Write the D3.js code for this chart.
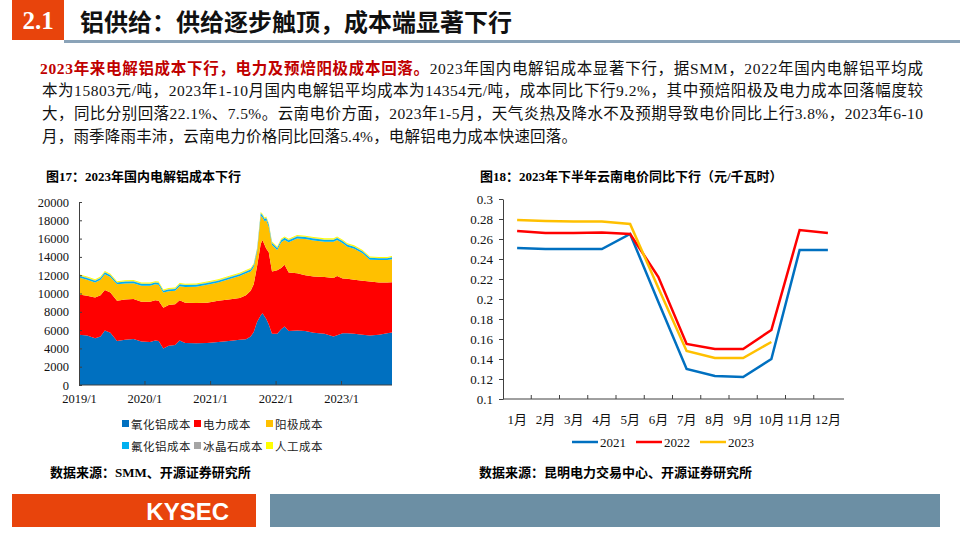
<!DOCTYPE html>
<html><head><meta charset="utf-8">
<script src="https://cdn.jsdelivr.net/npm/d3@7"></script>
<style>
body{margin:0;background:#fff;}
svg{display:block;}
text{font-family:"Liberation Serif","Noto Sans CJK SC",serif;}
</style></head>
<body>
<svg id="c" width="960" height="540"></svg>
<script>
// ---------- Left chart data (元/吨) ----------
const dates = ["2019-01-01","2019-02-15","2019-04-01","2019-05-01","2019-05-25","2019-06-25","2019-08-01","2019-09-15","2019-11-01","2019-12-15",
"2020-02-01","2020-03-01","2020-03-20","2020-04-15","2020-05-15","2020-06-20","2020-07-15","2020-08-15","2020-10-15","2020-12-15",
"2021-02-15","2021-04-15","2021-06-15","2021-07-20","2021-08-15","2021-09-01","2021-09-20","2021-10-10","2021-10-20","2021-11-01",
"2021-11-10","2021-11-24","2021-12-12","2022-01-10","2022-02-01","2022-02-20","2022-03-15","2022-05-01","2022-06-15","2022-08-01",
"2022-10-01","2022-11-20","2022-12-10","2023-01-10","2023-02-05","2023-03-15","2023-05-01","2023-06-10","2023-08-01","2023-09-15","2023-10-12"];
const alumina = [5500,5400,5100,5300,5950,5700,4800,4950,5020,4750,4700,4850,4800,4000,4300,4380,4850,4600,4550,4600,4700,4800,4950,5000,5300,5800,6900,7600,7830,7500,7200,6600,5600,5600,6100,6400,5900,5950,5900,5700,5600,5300,5450,5650,5650,5600,5500,5400,5500,5650,5750];
const power   = [4400,4350,4450,4500,4430,4400,4400,4400,4380,4350,4400,4400,4400,4450,4450,4450,4400,4400,4400,4400,4500,4550,4550,4800,5000,5200,6100,7800,8020,7800,7700,7900,6800,6950,6700,6750,6400,6250,6100,6150,6200,6400,6450,6000,5950,5900,5900,5900,5700,5550,5470];
const anode   = [1850,1750,1650,1700,1720,1700,1800,1750,1720,1760,1750,1750,1750,1650,1500,1470,1550,1720,1800,1950,2000,2200,2400,2400,2100,1900,1600,3100,2450,2600,3100,2800,2900,2200,2800,2700,3300,3800,3950,3950,3850,3950,3950,3850,3520,3400,3000,2400,2450,2450,2530];
const fluoride= [200,200,200,200,210,200,200,200,200,200,200,200,200,200,200,200,200,200,200,200,200,200,210,210,220,230,240,260,260,250,250,240,230,230,230,230,230,230,220,220,220,220,220,220,210,210,200,200,200,200,200];
const cryolite= [40,40,40,40,40,40,40,40,40,40,40,40,40,40,40,40,40,40,40,40,40,40,40,40,45,45,50,50,50,50,50,50,45,45,45,45,45,45,45,45,45,45,45,45,40,40,40,40,40,40,40];
const labor   = [110,110,110,110,110,110,110,110,110,110,110,110,110,110,110,110,110,110,110,110,110,110,110,110,110,110,110,110,110,110,110,110,110,110,110,110,110,110,110,110,110,110,110,110,110,110,110,110,110,110,110];
const leftKeys = ["氧化铝成本","电力成本","阳极成本","氟化铝成本","冰晶石成本","人工成本"];
const leftColors = ["#0070C0","#FF0000","#FFC000","#00B0F0","#A5A5A5","#FFFF00"];
const leftYTicks = [0,2000,4000,6000,8000,10000,12000,14000,16000,18000,20000];
const leftXTicks = ["2019-01-01","2020-01-01","2021-01-01","2022-01-01","2023-01-01"];
const leftXLabels = ["2019/1","2020/1","2021/1","2022/1","2023/1"];

// ---------- Right chart data (元/千瓦时) ----------
const months = ["1月","2月","3月","4月","5月","6月","7月","8月","9月","10月","11月","12月"];
const price2021 = [0.251,0.250,0.250,0.250,0.265,0.197,0.130,0.123,0.122,0.140,0.249,0.249];
const price2022 = [0.268,0.266,0.266,0.2665,0.265,0.222,0.155,0.150,0.150,0.169,0.269,0.266];
const price2023 = [0.279,0.278,0.2775,0.2775,0.275,0.211,0.148,0.141,0.141,0.157,null,null];
const rightSeries = ["2021","2022","2023"];
const rightColors = ["#0070C0","#FF0000","#FFC000"];
const rightYTicks = [0.1,0.12,0.14,0.16,0.18,0.2,0.22,0.24,0.26,0.28,0.3];
const rightYLabels = ["0.1","0.12","0.14","0.16","0.18","0.2","0.22","0.24","0.26","0.28","0.3"];

const svg = d3.select("#c");

// ---------- Header ----------
svg.append("rect").attr("x",12).attr("y",0).attr("width",52).attr("height",40).attr("fill","#E8440C");
svg.append("text").attr("x",38).attr("y",29).attr("text-anchor","middle").attr("fill","#fff")
  .attr("font-size",25).attr("font-weight","bold").text("2.1");
svg.append("rect").attr("x",64).attr("y",40).attr("width",896).attr("height",3).attr("fill","#8AA3B8");
svg.append("text").attr("x",80).attr("y",31).attr("font-size",24).attr("font-weight","bold")
  .style("font-family","'Noto Sans CJK SC'").attr("fill","#111").text("铝供给：供给逐步触顶，成本端显著下行");

// ---------- Paragraph ----------
const para = svg.append("g").attr("font-size",15.5).attr("fill","#111");
const l1 = para.append("text").attr("x",40).attr("y",74).attr("textLength",883).attr("lengthAdjust","spacing");
l1.append("tspan").attr("fill","#C00000").attr("font-weight","bold").text("2023年来电解铝成本下行，电力及预焙阳极成本回落。");
l1.append("tspan").text("2023年国内电解铝成本显著下行，据SMM，2022年国内电解铝平均成");
para.append("text").attr("x",42).attr("y",96).attr("textLength",881).attr("lengthAdjust","spacing")
  .text("本为15803元/吨，2023年1-10月国内电解铝平均成本为14354元/吨，成本同比下行9.2%，其中预焙阳极及电力成本回落幅度较");
para.append("text").attr("x",42).attr("y",119).attr("textLength",881).attr("lengthAdjust","spacing")
  .text("大，同比分别回落22.1%、7.5%。云南电价方面，2023年1-5月，天气炎热及降水不及预期导致电价同比上行3.8%，2023年6-10");
para.append("text").attr("x",42).attr("y",142).attr("textLength",535).attr("lengthAdjust","spacing")
  .text("月，雨季降雨丰沛，云南电力价格同比回落5.4%，电解铝电力成本快速回落。");

// ---------- Titles ----------
svg.append("text").attr("x",46).attr("y",181).attr("font-size",13).attr("font-weight","bold").text("图17：2023年国内电解铝成本下行");
svg.append("text").attr("x",480).attr("y",181).attr("font-size",13).attr("font-weight","bold").text("图18：2023年下半年云南电价同比下行（元/千瓦时）");

// ---------- Left chart ----------
const parse = d3.timeParse("%Y-%m-%d");
const rows = dates.map((d,i)=>({date:parse(d),"氧化铝成本":alumina[i],"电力成本":power[i],"阳极成本":anode[i],"氟化铝成本":fluoride[i],"冰晶石成本":cryolite[i],"人工成本":labor[i]}));
const xL = d3.scaleTime().domain([parse(dates[0]),parse(dates[dates.length-1])]).range([79,392]);
const yL = d3.scaleLinear().domain([0,20000]).range([385,202]);
const stack = d3.stack().keys(leftKeys)(rows);
const area = d3.area().x(d=>xL(d.data.date)).y0(d=>yL(d[0])).y1(d=>yL(d[1]));
const gL = svg.append("g");
gL.selectAll("path.a").data(stack).join("path").attr("d",area).attr("fill",(d,i)=>leftColors[i]);
const axL = gL.append("g").attr("transform","translate(79,0)")
  .call(d3.axisLeft(yL).tickValues(leftYTicks).tickSizeInner(-3).tickSizeOuter(0).tickPadding(10).tickFormat(d3.format("d")));
const axB = gL.append("g").attr("transform","translate(0,385)")
  .call(d3.axisBottom(xL).tickValues(leftXTicks.map(parse)).tickSizeInner(-4).tickSizeOuter(0).tickPadding(9)
  .tickFormat((d,i)=>leftXLabels[i]));
[axL,axB].forEach(a=>{a.selectAll("path,line").attr("stroke","#404040");a.selectAll("text").attr("font-size",12.5).attr("fill","#111").style("font-family","'Liberation Serif'");});
axB.select("path").attr("d","M79,0H392");

// left legend
const legPos = [[122,424],[194,424],[266,424],[122,446],[194,446],[266,446]];
leftKeys.forEach((k,i)=>{
  const g = svg.append("g").attr("transform",`translate(${legPos[i][0]},${legPos[i][1]})`);
  g.append("rect").attr("x",0).attr("y",-4).attr("width",7).attr("height",7).attr("fill",leftColors[i]);
  g.append("text").attr("x",9).attr("y",4.5).attr("font-size",11.5).attr("letter-spacing",0.5).attr("fill","#222").text(k);
});

// ---------- Right chart ----------
const xR = d3.scaleBand().domain(months).range([503,842]);
const yR = d3.scaleLinear().domain([0.1,0.3]).range([399,199]);
const gR = svg.append("g");
const axRL = gR.append("g").attr("transform","translate(503,0)")
  .call(d3.axisLeft(yR).tickValues(rightYTicks).tickSizeInner(4).tickSizeOuter(0).tickPadding(6).tickFormat((d,i)=>rightYLabels[i]));
const axRB = gR.append("g").attr("transform","translate(0,399)")
  .call(d3.axisBottom(xR).tickSize(0).tickPadding(16));
axRB.select("path").attr("d","M503,0H844");
axRB.selectAll(".bnd").data(months.slice(1)).join("line").attr("class","bnd")
  .attr("x1",d=>xR(d)).attr("x2",d=>xR(d)).attr("y1",0).attr("y2",-4).attr("stroke","#404040");
[axRL,axRB].forEach(a=>{a.selectAll("path,line").attr("stroke","#404040");a.selectAll("text").attr("font-size",13).attr("fill","#111");});
const seriesR = [price2021,price2022,price2023];
const line = d3.line().defined(d=>d.v!=null).x(d=>xR(d.m)+xR.bandwidth()/2).y(d=>yR(d.v));
seriesR.forEach((s,i)=>{
  gR.append("path").datum(months.map((m,j)=>({m,v:s[j]}))).attr("d",line)
    .attr("fill","none").attr("stroke",rightColors[i]).attr("stroke-width",2.5);
});
// right legend
const rLegX = [572,636,700];
rightSeries.forEach((s,i)=>{
  svg.append("line").attr("x1",rLegX[i]).attr("x2",rLegX[i]+26).attr("y1",442).attr("y2",442).attr("stroke",rightColors[i]).attr("stroke-width",2.5);
  svg.append("text").attr("x",rLegX[i]+28).attr("y",446.5).attr("font-size",13).attr("fill","#111").text(s);
});

// ---------- Sources ----------
svg.append("text").attr("x",50).attr("y",477).attr("font-size",13).attr("font-weight","bold").text("数据来源：SMM、开源证券研究所");
svg.append("text").attr("x",479).attr("y",477).attr("font-size",13).attr("font-weight","bold").text("数据来源：昆明电力交易中心、开源证券研究所");

// ---------- Footer ----------
svg.append("rect").attr("x",12).attr("y",494).attr("width",244).attr("height",33).attr("fill","#E8440C");
svg.append("text").attr("x",229).attr("y",520).attr("text-anchor","end").attr("font-size",24).attr("font-weight","bold")
  .attr("fill","#fff").style("font-family","'Liberation Sans',Arial").text("KYSEC");
svg.append("rect").attr("x",270).attr("y",494).attr("width",670).attr("height",33).attr("fill","#6C8FA4");
</script>
</body></html>
